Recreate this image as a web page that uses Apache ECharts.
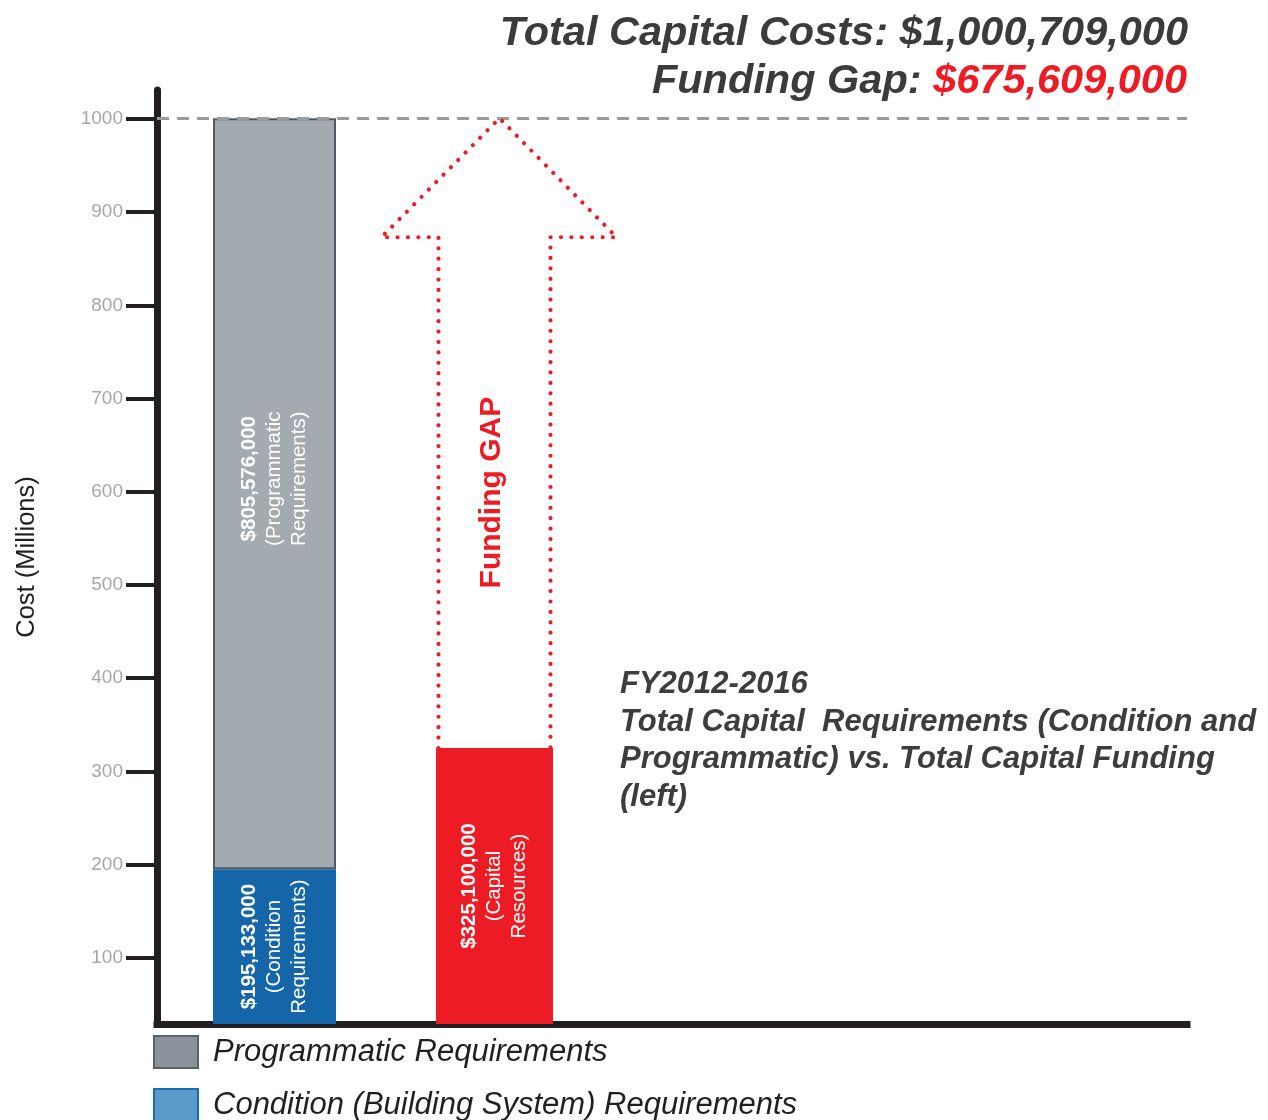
<!DOCTYPE html>
<html>
<head>
<meta charset="utf-8">
<script src="https://cdn.jsdelivr.net/npm/echarts@6/dist/echarts.min.js"></script>
<style>
  html, body { margin: 0; padding: 0; background: #ffffff; }
  #chart { width: 1268px; height: 1120px; }
</style>
</head>
<body>
<div id="chart"></div>
<script>
// Capital figures, FY2012-2016, in $ millions
const conditionReq = 195.133;      // Condition (building system) requirements
const programmaticReq = 805.576;   // Programmatic requirements
const capitalResources = 325.1;    // Available capital funding

// Horizontal slots: requirements column, funding column
const columnSlots = [1, 2];

// Y-axis tick values
const yTicks = [100, 200, 300, 400, 500, 600, 700, 800, 900, 1000];

const seriesNames = [
  'Condition (Building System) Requirements',
  'Programmatic Requirements',
  'Capital Resources'
];

const totalCost = conditionReq + programmaticReq;
const fundingGap = totalCost - capitalResources;

const FONT = '"Liberation Sans", Arial, Helvetica, sans-serif';

// 805.576 -> "$805,576,000"
function money(v) {
  return '$' + Math.round(v * 1000).toLocaleString('en-US') + ',000';
}

const labelRich = {
  b: { fontFamily: FONT, fontSize: 20.5, fontWeight: 'bold', color: '#ffffff', lineHeight: 25 },
  n: { fontFamily: FONT, fontSize: 20.5, color: '#ffffff', lineHeight: 25 }
};

// Rows are [amount, slot]; the amount comes first so stacking runs on the value axis.
// Labels are rotated, so offset[0] moves them along the bar.
function barLabel(line2, line3, shift) {
  return {
    show: true,
    position: 'inside',
    rotate: 90,
    offset: [shift || 0, 0],
    formatter: p => '{b|' + money(p.value[0]) + '}\n{n|' + line2 + '}\n{n|' + line3 + '}',
    rich: labelRich
  };
}

const chart = echarts.init(document.getElementById('chart'), null, { renderer: 'canvas' });

chart.setOption({
  animation: false,
  backgroundColor: '#ffffff',
  title: [
    {
      text: 'Total Capital Costs: ' + money(totalCost),
      right: 80, top: 13, padding: 0,
      textStyle: { fontFamily: FONT, fontSize: 41.5, fontWeight: 'bold', fontStyle: 'italic', color: '#3b3b3b' }
    },
    {
      text: '{g|Funding Gap: }{r|' + money(fundingGap) + '}',
      right: 81, top: 61, padding: 0,
      textStyle: {
        rich: {
          g: { fontFamily: FONT, fontSize: 41.5, fontWeight: 'bold', fontStyle: 'italic', color: '#3b3b3b' },
          r: { fontFamily: FONT, fontSize: 41.5, fontWeight: 'bold', fontStyle: 'italic', color: '#ed1c24' }
        }
      }
    },
    {
      text: 'FY2012-2016\nTotal Capital  Requirements (Condition and\nProgrammatic) vs. Total Capital Funding\n(left)',
      left: 620, top: 666, padding: 0,
      textStyle: { fontFamily: FONT, fontSize: 31, fontWeight: 'bold', fontStyle: 'italic', color: '#3d3d3d', lineHeight: 37.5 }
    }
  ],
  legend: {
    orient: 'vertical',
    left: 153, top: 1035, height: 140, padding: 0,
    icon: 'rect',
    itemWidth: 44, itemHeight: 32, itemGap: 19,
    selectedMode: false,
    textStyle: { fontFamily: FONT, fontSize: 31, fontStyle: 'italic', color: '#231f20', padding: [0, 0, 0, 10] },
    data: [
      { name: seriesNames[1], itemStyle: { color: '#8a939b', borderColor: '#56646e', borderWidth: 2 } },
      { name: seriesNames[0], itemStyle: { color: '#5a9bc8', borderColor: '#1d6db2', borderWidth: 2 } }
    ]
  },
  grid: { left: 157, top: 90, right: 81, bottom: 96, containLabel: false, outerBoundsMode: 'none' },
  xAxis: {
    type: 'value',
    min: 0.4865, max: 5.1053,
    axisLine: { show: true, onZero: false, lineStyle: { color: '#231f20', width: 7, cap: 'square' } },
    axisTick: { show: false },
    axisLabel: { show: false },
    splitLine: { show: false }
  },
  yAxis: {
    type: 'value',
    min: 29, max: 1031,
    name: 'Cost (Millions)',
    nameLocation: 'middle',
    nameGap: 117,
    nameTextStyle: { fontFamily: FONT, fontSize: 25.5, color: '#231f20' },
    axisLine: { show: true, onZero: false, lineStyle: { color: '#231f20', width: 7 } },
    axisTick: { show: true, customValues: yTicks, length: 31, lineStyle: { color: '#231f20', width: 4 } },
    axisLabel: {
      show: true, customValues: yTicks, margin: 34,
      formatter: v => String(v),
      fontFamily: FONT, fontSize: 19, color: '#a6a6a6'
    },
    splitLine: { show: false }
  },
  series: [
    {
      name: seriesNames[0],
      type: 'bar',
      stack: 'requirements',
      barWidth: 123,
      barGap: '-100%',
      encode: { x: 1, y: 0 },
      data: [[conditionReq, columnSlots[0]]],
      itemStyle: { color: '#1565a9' },
      label: barLabel('(Condition', 'Requirements)'),
      emphasis: { disabled: true }
    },
    {
      name: seriesNames[1],
      type: 'bar',
      stack: 'requirements',
      barWidth: 123,
      barGap: '-100%',
      encode: { x: 1, y: 0 },
      data: [[programmaticReq, columnSlots[0]]],
      itemStyle: { color: '#a3aab0', borderColor: '#4d5b66', borderWidth: 2 },
      label: barLabel('(Programmatic', 'Requirements)', 15),
      emphasis: { disabled: true },
      markLine: {
        silent: true,
        symbol: 'none',
        label: { show: false },
        lineStyle: { color: '#9b9b9b', width: 3, type: [12, 8] },
        data: [{ yAxis: totalCost }]
      }
    },
    {
      name: seriesNames[2],
      type: 'bar',
      stack: 'funding',
      barWidth: 117,
      barGap: '-100%',
      encode: { x: 1, y: 0 },
      data: [[capitalResources, columnSlots[1]]],
      itemStyle: { color: '#ed1c24' },
      label: barLabel('(Capital', 'Resources)'),
      emphasis: { disabled: true }
    },
    {
      // Dotted arrow spanning the gap between funding and total cost
      name: 'Funding GAP',
      type: 'custom',
      silent: true,
      z: 5,
      data: [[columnSlots[1], capitalResources, totalCost]],
      renderItem: function (params, api) {
        const base = api.coord([api.value(0), api.value(1)]);
        const tip = api.coord([api.value(0), api.value(2)]);
        const cx = base[0];
        const shaftHalf = 56;
        const headY = tip[1] + 119;
        const pts = [
          [cx - shaftHalf, base[1]],
          [cx - shaftHalf, headY],
          [cx - 113, headY],
          [cx + 5, tip[1]],
          [cx + 122, headY],
          [cx + shaftHalf, headY],
          [cx + shaftHalf, base[1]]
        ];
        return {
          type: 'group',
          children: [
            {
              type: 'polyline',
              shape: { points: pts },
              style: { stroke: '#ed1c24', fill: null, lineWidth: 4.2, lineDash: [0.01, 10.4], lineCap: 'round', lineJoin: 'round' }
            },
            {
              type: 'text',
              x: cx - 3,
              y: (headY + base[1]) / 2,
              rotation: Math.PI / 2,
              style: {
                text: 'Funding GAP',
                fill: '#ed1c24',
                font: 'bold 30px ' + FONT,
                align: 'center',
                verticalAlign: 'middle'
              }
            }
          ]
        };
      }
    }
  ]
});
</script>
</body>
</html>
